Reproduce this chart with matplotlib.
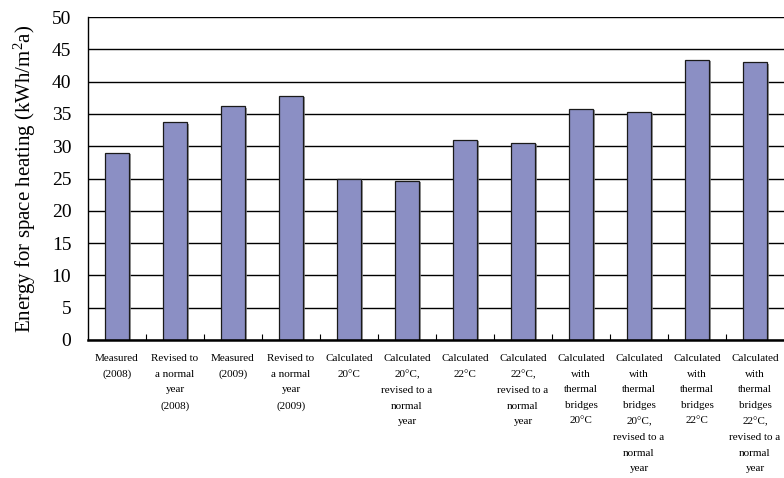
import matplotlib
matplotlib.use("Agg")
from matplotlib import pyplot as plt
from matplotlib import patheffects as pe
import numpy as np

# chart data
categories = [
    "Measured\n(2008)",
    "Revised to\na normal\nyear\n(2008)",
    "Measured\n(2009)",
    "Revised to\na normal\nyear\n(2009)",
    "Calculated\n20°C",
    "Calculated\n20°C,\nrevised to a\nnormal\nyear",
    "Calculated\n22°C",
    "Calculated\n22°C,\nrevised to a\nnormal\nyear",
    "Calculated\nwith\nthermal\nbridges\n20°C",
    "Calculated\nwith\nthermal\nbridges\n20°C,\nrevised to a\nnormal\nyear",
    "Calculated\nwith\nthermal\nbridges\n22°C",
    "Calculated\nwith\nthermal\nbridges\n22°C,\nrevised to a\nnormal\nyear",
]
energy = [29.0, 33.7, 36.2, 37.8, 24.9, 24.6, 31.0, 30.5, 35.8, 35.3, 43.4, 43.0]
yticks = [0, 5, 10, 15, 20, 25, 30, 35, 40, 45, 50]

plt.rcParams['font.family'] = ['Liberation Serif', 'DejaVu Serif']
plt.rcParams['mathtext.default'] = 'regular'

fig = plt.figure(figsize=(7.84, 4.78), dpi=100)
ax = fig.add_axes([88/784, 138/478, 696/784, 323/478])

x = np.arange(len(categories))
ax.set_axisbelow(True)
ax.yaxis.grid(True, color='black', linewidth=1.0)
bars = ax.bar(x, energy, width=0.4, color='#8B8FC4', edgecolor='#1a1a1a', linewidth=0.9,
              path_effects=[pe.SimplePatchShadow(offset=(1.5, -1.0), shadow_rgbFace='#808080', alpha=0.8), pe.Normal()])

ax.set_xlim(-0.5, len(categories) - 0.5)
ax.set_ylim(0, 50)
ax.set_yticks(yticks)
ax.tick_params(axis='y', length=0, labelsize=14, pad=12)

ax.set_xticks(x)
ax.set_xticklabels(categories, fontsize=8, linespacing=1.95, va='top')
ax.tick_params(axis='x', which='major', length=0, pad=10)
ax.set_xticks(x[:-1] + 0.5, minor=True)
ax.tick_params(axis='x', which='minor', direction='in', length=4, width=0.8)

for side in ['top', 'right']:
    ax.spines[side].set_visible(False)
ax.spines['left'].set_linewidth(1.0)
ax.spines['bottom'].set_linewidth(1.8)

ax.set_ylabel("Energy for space heating (kWh/m$^2$a)", fontsize=15, labelpad=10)

fig.savefig("out.png", dpi=100)
